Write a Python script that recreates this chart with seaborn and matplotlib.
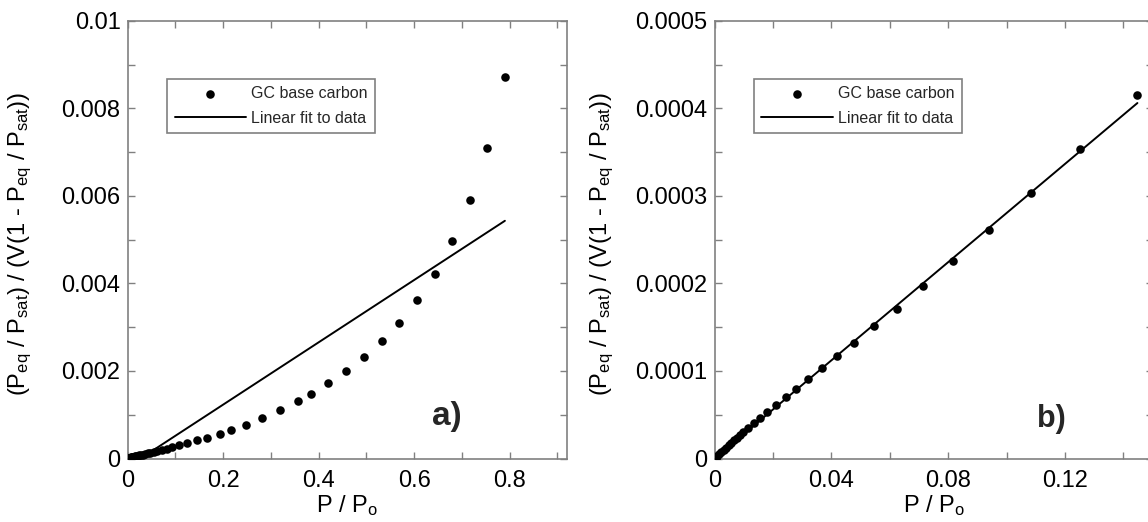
import numpy as np
import pandas as pd
import matplotlib
matplotlib.use("Agg")
import matplotlib.pyplot as plt
import seaborn as sns
from matplotlib.ticker import FixedLocator, MultipleLocator

# ---------------- data ----------------
p_rel = [0.0003, 0.0009, 0.0016, 0.0023, 0.0031, 0.0039, 0.0048, 0.0057,
         0.0066, 0.0076, 0.0086, 0.0097, 0.0113, 0.0134, 0.0155, 0.0181,
         0.0211, 0.0243, 0.0279, 0.0320, 0.0367, 0.0419, 0.0476, 0.0545,
         0.0624, 0.0714, 0.0818, 0.0940, 0.1082, 0.1252, 0.1448, 0.166,
         0.193, 0.217, 0.248, 0.282, 0.320, 0.357, 0.384, 0.420, 0.457,
         0.494, 0.532, 0.569, 0.606, 0.643, 0.680, 0.716, 0.753, 0.790]
bet_y = [0.000001, 0.000003, 0.000005, 0.0000075, 0.000010, 0.0000125,
         0.000015, 0.000018, 0.000021, 0.000024, 0.000027, 0.0000305,
         0.0000354, 0.0000411, 0.0000468, 0.0000536, 0.0000616, 0.0000703,
         0.0000795, 0.0000905, 0.000103, 0.000117, 0.000132, 0.000151,
         0.000171, 0.000197, 0.000226, 0.000261, 0.000303, 0.000353,
         0.0004148, 0.00047, 0.00055, 0.00065, 0.00077, 0.00093, 0.00111,
         0.00131, 0.00148, 0.00172, 0.00199, 0.00232, 0.00268, 0.00310,
         0.00363, 0.00422, 0.00497, 0.00590, 0.00710, 0.00871]

fit_a_x = [0.03, 0.79]
fit_a_y = [0.00002, 0.00543]
fit_b_x = [0.0, 0.1448]
fit_b_y = [0.0, 0.000406]

xticks_a = [0, 0.2, 0.4, 0.6, 0.8]
xtick_labels_a = ["0", "0.2", "0.4", "0.6", "0.8"]
yticks_a = [0, 0.002, 0.004, 0.006, 0.008, 0.01]
ytick_labels_a = ["0", "0.002", "0.004", "0.006", "0.008", "0.01"]
xticks_b = [0, 0.04, 0.08, 0.12]
xtick_labels_b = ["0", "0.04", "0.08", "0.12"]
yticks_b = [0, 0.0001, 0.0002, 0.0003, 0.0004, 0.0005]
ytick_labels_b = ["0", "0.0001", "0.0002", "0.0003", "0.0004", "0.0005"]

series_label = "GC base carbon"
fit_label = "Linear fit to data"
panel_labels = ["a)", "b)"]

df = pd.DataFrame({"x": p_rel, "y": bet_y})
fit_a = pd.DataFrame({"x": fit_a_x, "y": fit_a_y})
fit_b = pd.DataFrame({"x": fit_b_x, "y": fit_b_y})

# ---------------- style ----------------
sns.set_theme(style="ticks")
plt.rcParams["font.family"] = ["Liberation Sans", "DejaVu Sans"]
plt.rcParams["mathtext.fontset"] = "custom"
plt.rcParams["mathtext.rm"] = "Liberation Sans"
plt.rcParams["mathtext.it"] = "Liberation Sans:italic"
plt.rcParams["mathtext.bf"] = "Liberation Sans:bold"

SPINE = "#808080"
ylabel = r"(P$_{\rm eq}$ / P$_{\rm sat}$) / (V(1 - P$_{\rm eq}$ / P$_{\rm sat}$))"
xlabel = r"P / P$_{\rm o}$"

fig = plt.figure(figsize=(11.48, 5.22), dpi=100)
ax_a = fig.add_axes([0.1111, 0.1216, 0.3828, 0.8387])
ax_b = fig.add_axes([0.6225, 0.1216, 0.3815, 0.8387])

cfg = [
    (ax_a, fit_a, (0, 0.92), (0, 0.01), xticks_a, xtick_labels_a, 0.1,
     yticks_a, ytick_labels_a, 0.001, (0.727, 0.097), "heavy", 24, -0.213),
    (ax_b, fit_b, (0, 0.15), (0, 0.0005), xticks_b, xtick_labels_b, 0.02,
     yticks_b, ytick_labels_b, 0.00005, (0.770, 0.090), "bold", 22, -0.225),
]

for i, (ax, fit, xl, yl, xt, xtl, xminor, yt, ytl, yminor, pl, pw, ps, ylx) in enumerate(cfg):
    sns.scatterplot(data=df, x="x", y="y", ax=ax, color="black", s=38,
                    linewidth=0, label=series_label, zorder=3)
    sns.lineplot(data=fit, x="x", y="y", ax=ax, color="black", linewidth=1.4,
                 label=fit_label, zorder=2)
    ax.set_xlim(*xl)
    ax.set_ylim(*yl)
    ax.xaxis.set_major_locator(FixedLocator(xt))
    ax.set_xticklabels(xtl)
    ax.yaxis.set_major_locator(FixedLocator(yt))
    ax.set_yticklabels(ytl)
    ax.xaxis.set_minor_locator(MultipleLocator(xminor))
    ax.yaxis.set_minor_locator(MultipleLocator(yminor))
    ax.tick_params(which="both", direction="in", top=True, right=True,
                   length=5, width=1.0, color=SPINE, labelsize=17,
                   labelcolor="black")
    ax.tick_params(axis="x", which="both", pad=8)
    ax.tick_params(axis="y", which="both", pad=5)
    for sp in ax.spines.values():
        sp.set_color(SPINE)
        sp.set_linewidth(1.2)
    ax.set_xlabel(xlabel, fontsize=17, labelpad=1, color="black")
    ax.set_ylabel(ylabel, fontsize=17, color="black")
    ax.yaxis.set_label_coords(ylx, 0.49)
    leg = ax.legend(loc="upper left", bbox_to_anchor=(0.0906, 0.8668),
                    borderaxespad=0, fontsize=11.5, handlelength=4.5,
                    handletextpad=0.3, borderpad=0.45, labelspacing=0.6,
                    fancybox=False, framealpha=1, edgecolor=SPINE)
    leg.get_frame().set_linewidth(1.2)
    ax.text(pl[0], pl[1], panel_labels[i], transform=ax.transAxes,
            fontsize=ps, fontweight=pw, ha="center", va="center")

fig.savefig("out.png", dpi=100)
